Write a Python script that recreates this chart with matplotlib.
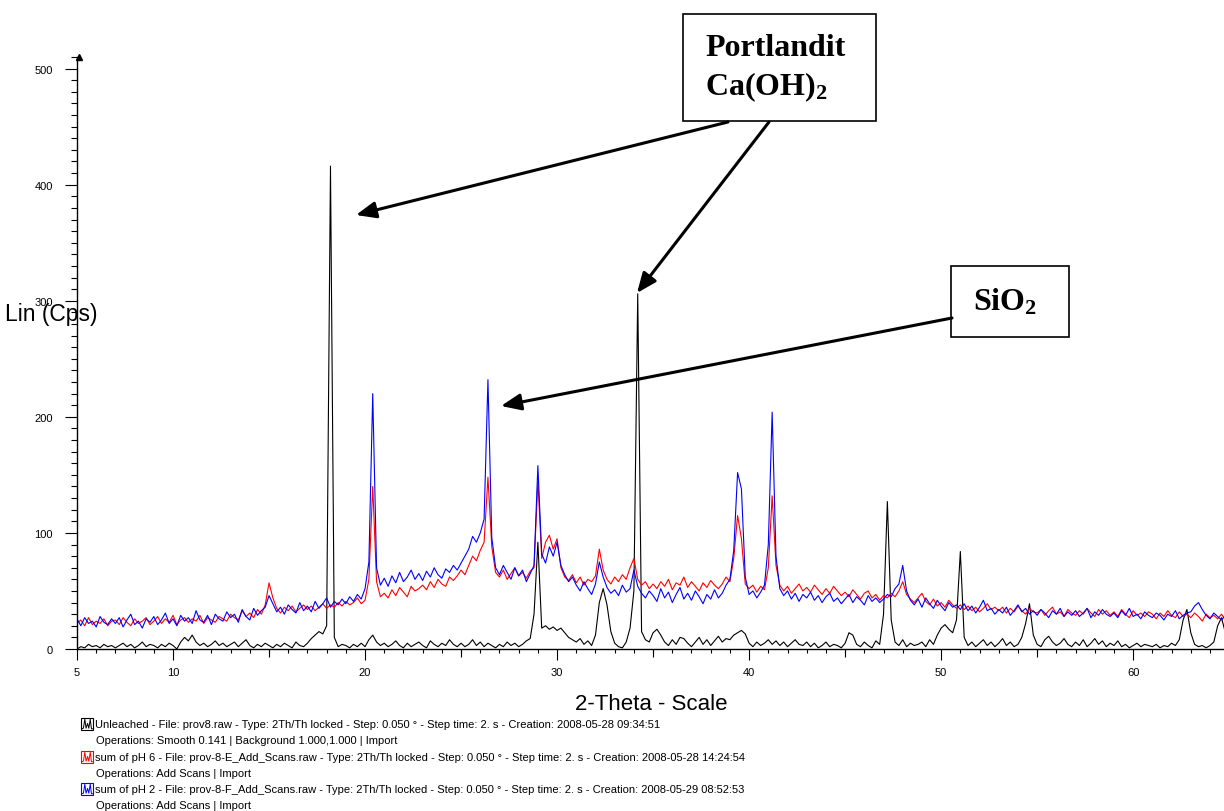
"""XRD patterns of unleached and leached samples (pH 6, pH 2)
"""
import numpy as np
import matplotlib.pyplot as plt
from matplotlib.patches import Rectangle, FancyArrowPatch
from matplotlib.lines import Line2D
from matplotlib.ticker import MultipleLocator, FixedLocator

plt.rcParams['font.family'] = ['Liberation Sans', 'DejaVu Sans']
plt.rcParams['mathtext.fontset'] = 'custom'
plt.rcParams['mathtext.rm'] = 'Liberation Serif:bold'
plt.rcParams['mathtext.it'] = 'Liberation Serif:bold'
plt.rcParams['mathtext.bf'] = 'Liberation Serif:bold'

# scan grid, 2-theta in degrees (0.2 deg resolution)
two_theta = np.round(5.0 + 0.2 * np.arange(300), 1)

# Unleached (smoothed, background removed)
unleached = [
    0, 2, 1, 4, 2, 3, 1, 4, 2, 3,
    1, 3, 5, 2, 4, 1, 3, 6, 2, 4,
    3, 1, 4, 2, 5, 3, 0, 6, 10, 7,
    12, 6, 3, 5, 2, 4, 7, 3, 5, 2,
    4, 6, 2, 5, 8, 3, 1, 4, 2, 5,
    3, 1, 4, 2, 5, 3, 1, 6, 3, 2,
    5, 9, 12, 15, 13, 20, 416, 10, 2, 4,
    3, 1, 4, 2, 5, 2, 8, 12, 6, 3,
    5, 2, 4, 7, 3, 1, 5, 2, 4, 6,
    3, 1, 7, 4, 2, 5, 3, 8, 4, 2,
    5, 2, 4, 8, 3, 6, 2, 5, 3, 1,
    4, 2, 6, 3, 5, 2, 4, 7, 9, 30,
    92, 18, 20, 17, 19, 16, 18, 14, 10, 8,
    6, 9, 4, 7, 3, 12, 40, 52, 38, 15,
    5, 2, 1, 6, 18, 50, 306, 15, 8, 6,
    14, 17, 12, 6, 3, 8, 4, 10, 9, 5,
    2, 6, 10, 4, 8, 3, 7, 11, 6, 9,
    8, 12, 14, 16, 13, 5, 2, 6, 3, 5,
    8, 4, 7, 3, 6, 2, 5, 8, 4, 3,
    6, 2, 5, 1, 3, 6, 2, 4, 3, 1,
    5, 14, 12, 4, 2, 6, 3, 1, 7, 4,
    30, 127, 25, 6, 3, 8, 2, 5, 3, 4,
    6, 2, 8, 4, 12, 18, 21, 17, 14, 25,
    84, 10, 3, 6, 2, 5, 8, 3, 6, 2,
    5, 9, 3, 6, 2, 4, 10, 22, 39, 12,
    4, 2, 8, 11, 6, 3, 5, 9, 4, 2,
    6, 3, 8, 2, 5, 9, 4, 7, 2, 5,
    3, 7, 2, 4, 1, 3, 5, 2, 4, 3,
    2, 4, 1, 3, 2, 5, 3, 8, 25, 34,
    14, 4, 2, 3, 1, 3, 6, 20, 27, 14,
]

# sum of pH 6
ph6 = [
    22, 25, 20, 27, 21, 24, 22, 26, 20, 24,
    25, 21, 27, 23, 20, 26, 22, 24, 27, 21,
    24, 28, 22, 26, 23, 29, 21, 25, 27, 23,
    26, 24, 29, 22, 27, 25, 23, 28, 26, 24,
    30, 27, 25, 33, 28, 31, 27, 34, 30, 38,
    57, 44, 35, 31, 36, 33, 37, 32, 35, 38,
    34, 37, 33, 36, 39, 35, 38, 36, 40, 37,
    41, 38, 40, 44, 39, 42, 60, 140, 58, 45,
    48, 44, 51, 46, 53, 49, 45, 54, 50, 52,
    55, 51, 58, 53, 60, 56, 54, 62, 59, 63,
    68, 64, 72, 80, 76, 85, 92, 148, 88, 66,
    62, 68, 60, 65, 70, 63, 66, 61, 67, 70,
    145, 78, 92, 98, 86, 95, 70, 62, 59, 64,
    57, 62, 55, 60, 58, 63, 86, 68, 60, 56,
    62, 58, 64, 60, 70, 78, 60, 55, 58, 52,
    56, 52, 58, 54, 60, 51, 57, 55, 62, 53,
    58, 54, 50, 57, 53, 59, 55, 52, 56, 62,
    58, 78, 115, 95, 56, 52, 55, 49, 54, 51,
    70, 132, 72, 55, 50, 54, 48, 52, 56, 50,
    53, 49, 55, 51, 47, 52, 48, 54, 50, 46,
    49, 45, 51, 47, 43, 48, 50, 44, 47, 42,
    46, 44, 48, 45, 50, 58, 47, 43, 40, 44,
    48, 41, 38, 43, 37, 40, 36, 42, 38, 35,
    38, 34, 37, 33, 36, 32, 35, 39, 34, 36,
    33, 36, 31, 35, 32, 37, 33, 30, 35, 32,
    31, 34, 29, 33, 36, 30, 32, 28, 34, 31,
    29, 33, 30, 35, 31, 28, 34, 30, 33, 29,
    32, 28, 34, 30, 27, 33, 29, 31, 28, 32,
    30, 26, 31, 28, 33, 29, 27, 32, 28, 30,
    27, 31, 28, 24, 30, 27, 29, 26, 30, 25,
]

# sum of pH 2
ph2 = [
    26, 20, 27, 22, 24, 19, 28, 23, 21, 26,
    22, 27, 19, 25, 30, 21, 24, 18, 26, 23,
    28, 21, 25, 31, 22, 26, 20, 29, 24, 27,
    22, 33, 25, 23, 29, 21, 30, 26, 24, 32,
    27, 30, 23, 34, 28, 25, 35, 29, 33, 36,
    46, 39, 32, 36, 30, 38, 34, 31, 40, 33,
    37, 32, 41, 35, 39, 44, 36, 41, 38, 43,
    39, 45, 41, 47, 43, 52, 75, 220, 70, 55,
    61, 54, 63, 57, 66, 58, 62, 68, 60, 65,
    59, 67, 62, 70, 64, 61, 69, 66, 72, 68,
    74, 80, 86, 97, 92, 100, 112, 232, 96, 70,
    64, 72, 66, 60, 70, 63, 68, 58, 65, 72,
    158, 82, 74, 88, 80, 92, 72, 64, 58, 62,
    55, 50, 58, 52, 47, 56, 75, 62, 53, 48,
    51, 46, 55, 49, 52, 68, 54, 48, 44, 50,
    46, 41, 52, 44, 49, 40, 47, 53, 43, 48,
    42, 50, 45, 39, 47, 43, 51, 44, 48, 55,
    60, 85, 152, 138, 62, 47, 50, 44, 49, 55,
    90, 204, 80, 52, 46, 50, 43, 48, 41, 47,
    44, 49, 42, 46, 40, 45, 48, 41, 44, 39,
    43, 47, 40, 45, 42, 38, 46, 41, 44, 40,
    43, 47, 45, 52, 56, 72, 50, 42, 38, 43,
    36, 44, 39, 35, 42, 37, 33, 40, 36, 38,
    34, 39, 33, 37, 31, 36, 42, 33, 35, 30,
    34, 31, 36, 29, 33, 38, 32, 35, 30, 33,
    29, 34, 31, 27, 33, 30, 35, 28, 32, 29,
    33, 28, 31, 35, 27, 32, 29, 34, 30, 28,
    31, 27, 33, 29, 35, 28, 30, 26, 32, 29,
    27, 31, 29, 25, 30, 28, 33, 26, 29, 31,
    32, 37, 40, 34, 29, 26, 31, 28, 25, 29,
]

scan_colors = ['#000000', '#ff0000', '#0000ff']
scan_titles = [
    'Unleached - File: prov8.raw - Type: 2Th/Th locked - Step: 0.050 \u00b0 - '
    'Step time: 2. s - Creation: 2008-05-28 09:34:51',
    'sum of pH 6 - File: prov-8-E_Add_Scans.raw - Type: 2Th/Th locked - '
    'Step: 0.050 \u00b0 - Step time: 2. s - Creation: 2008-05-28 14:24:54',
    'sum of pH 2 - File: prov-8-F_Add_Scans.raw - Type: 2Th/Th locked - '
    'Step: 0.050 \u00b0 - Step time: 2. s - Creation: 2008-05-29 08:52:53',
]
scan_operations = [
    'Operations: Smooth 0.141 | Background 1.000,1.000 | Import',
    'Operations: Add Scans | Import',
    'Operations: Add Scans | Import',
]

W, H = 1224, 812


def fx(px):
    return px / W


def fy(py):
    return 1 - py / H


fig = plt.figure(figsize=(W / 100, H / 100), dpi=100)
ax = fig.add_axes([fx(77), fy(650), fx(W - 77), (650 - 58) / H])

for counts, color in zip([unleached, ph6, ph2], scan_colors):
    ax.plot(two_theta, counts, color=color, lw=0.8)

ax.set_xlim(5, 64.73)
ax.set_ylim(0, 510)
for side in ['top', 'right']:
    ax.spines[side].set_visible(False)
for side in ['left', 'bottom']:
    ax.spines[side].set_linewidth(1.0)

ax.yaxis.set_major_locator(FixedLocator([0, 100, 200, 300, 400, 500]))
ax.yaxis.set_minor_locator(MultipleLocator(10))
ax.tick_params(axis='y', which='major', length=8.5, width=0.8, labelsize=8, pad=9)
ax.tick_params(axis='y', which='minor', length=4.3, width=0.8)

ax.set_xticks([5, 10, 20, 30, 40, 50, 60])
ax.xaxis.set_minor_locator(MultipleLocator(1))
ax.tick_params(axis='x', which='major', length=8, width=0.8, labelsize=8, pad=5)
ax.tick_params(axis='x', which='minor', length=2.8, width=0.8)

# medium ticks at the odd fives
sec = ax.secondary_xaxis('bottom')
sec.set_xticks([15, 25, 35, 45, 55])
sec.tick_params(length=5.5, width=0.8, labelbottom=False)
sec.spines['bottom'].set_visible(False)

# arrow head on the intensity axis
ax.plot(0.002, 1.0, marker='^', ms=4.5, color='k', transform=ax.transAxes, clip_on=False)

fig.text(fx(5), fy(315), 'Lin (Cps)', fontsize=16.5, ha='left', va='center')
fig.text(fx(651), fy(705), '2-Theta - Scale', fontsize=16, ha='center', va='center')

# scan legend below the plot
glyph_x = [0.05, 0.2, 0.32, 0.42, 0.55, 0.65, 0.77, 0.87, 0.95]
glyph_y = [0.1, 0.15, 0.9, 0.15, 0.55, 0.15, 0.9, 0.1, 0.1]
row_y = [725, 741, 758, 774, 790, 806]
for k, (color, title, ops) in enumerate(zip(scan_colors, scan_titles, scan_operations)):
    y1 = row_y[2 * k]
    y2 = row_y[2 * k + 1]
    fig.add_artist(Rectangle((fx(81), fy(y1 + 6)), 12 / W, 12 / H, transform=fig.transFigure,
                             fill=False, edgecolor=color, lw=0.8))
    fig.add_artist(Line2D([fx(81 + 12 * g) for g in glyph_x],
                          [fy(y1 + 6 - 12 * g) for g in glyph_y],
                          transform=fig.transFigure, color=color, lw=0.7))
    fig.text(fx(95), fy(y1), title, fontsize=8, ha='left', va='center')
    fig.text(fx(96), fy(y2), ops, fontsize=8, ha='left', va='center')

# phase labels with pointers
boxes = [(683, 15, 876, 122), (951, 267, 1069, 338)]
for x0, y0, x1, y1 in boxes:
    fig.add_artist(Rectangle((fx(x0), fy(y1)), (x1 - x0) / W, (y1 - y0) / H,
                             transform=fig.transFigure, facecolor='white',
                             edgecolor='black', lw=1.2, zorder=5))

serif = dict(family='Liberation Serif', fontweight='bold', fontsize=23, zorder=6,
             ha='left', va='baseline')
fig.text(fx(705), fy(56), 'Portlandit', **serif)
fig.text(fx(705), fy(95), 'Ca(OH)$_2$', **serif)
fig.text(fx(973), fy(311), 'SiO$_2$', **serif)

pointers = [((728, 123), (356, 216)), ((769, 123), (637, 294)), ((952, 319), (501, 407))]
for (xa, ya), (xb, yb) in pointers:
    fig.add_artist(FancyArrowPatch((fx(xa), fy(ya)), (fx(xb), fy(yb)),
                                   transform=fig.transFigure,
                                   arrowstyle='-|>,head_length=0.6,head_width=0.25',
                                   mutation_scale=20, lw=2.2, color='black',
                                   shrinkA=0, shrinkB=0, zorder=6))

fig.savefig('out.png', dpi=100)
